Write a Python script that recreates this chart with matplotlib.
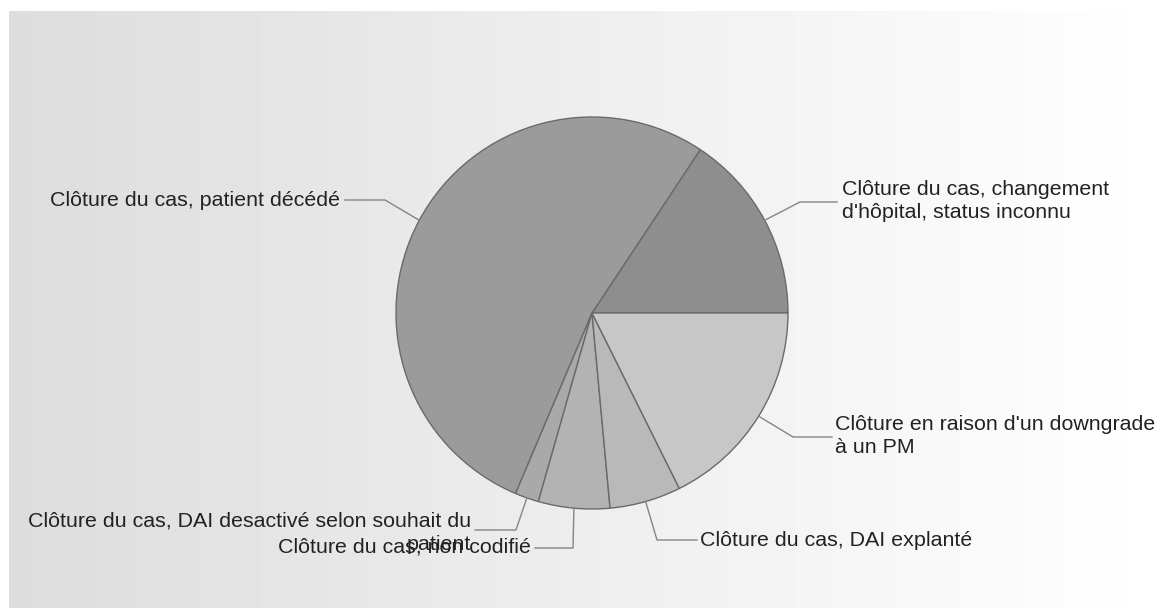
import numpy as np
import matplotlib
matplotlib.use("Agg")
import matplotlib.pyplot as plt

plt.rcParams["font.family"] = ["Liberation Sans", "DejaVu Sans"]

# clôtures de cas, par motif (nombre de patients)
labels = [
    "Clôture du cas, changement\nd'hôpital, status inconnu",
    "Clôture du cas, patient décédé",
    "Clôture du cas, DAI desactivé selon souhait du\npatient",
    "Clôture du cas, non codifié",
    "Clôture du cas, DAI explanté",
    "Clôture en raison d'un downgrade\nà un PM",
]
counts = [8, 27, 1, 3, 3, 9]
colors = ["#8e8e8e", "#9b9b9b", "#a9a9a9", "#b3b3b3", "#b9b9b9", "#c7c7c7"]

W, H = 1161, 608
CX, CY, R = 592, 313, 196  # pixels, origin top-left

# leader layout: elbow point, end of the line, text anchor (top-left pixel coords)
elbows = [(800, 202), (385, 200), (516, 530), (573, 548), (657, 540), (793, 437)]
ends = [(837, 202), (345, 200), (475, 530), (535, 548), (697, 540), (832, 437)]
text_pos = [(842, 201), (340, 200), (471, 533), (531, 547), (700, 540), (835, 436)]
text_ha = ["left", "right", "right", "right", "left", "left"]

fig = plt.figure(figsize=(W / 100, H / 100), dpi=100)
ax = fig.add_axes([0, 0, 1, 1])

# background: horizontal grey-to-white gradient
grad = np.linspace(0.865, 1.0, 256)[None, :]
ax.imshow(grad, extent=[9, W, 0, H - 11], cmap="gray", vmin=0, vmax=1,
          aspect="auto", interpolation="bilinear", zorder=0)

wedges, _ = ax.pie(counts, colors=colors, startangle=0, counterclock=True,
                   center=(CX, H - CY), radius=R,
                   wedgeprops=dict(edgecolor="#6a6a6a", linewidth=1.0))
for w in wedges:
    w.set_zorder(2)

for i, w in enumerate(wedges):
    mid = np.deg2rad((w.theta1 + w.theta2) / 2)
    x0 = CX + R * np.cos(mid)
    y0 = (H - CY) + R * np.sin(mid)
    ex, ey = elbows[i]
    tx, ty = ends[i]
    ax.plot([x0, ex, tx], [y0, H - ey, H - ty], color="#858585", lw=1.0, zorder=3)
    px, py = text_pos[i]
    ax.text(px, H - py, labels[i], ha=text_ha[i], va="center",
            multialignment=text_ha[i], fontsize=15.4, color="#222222",
            linespacing=1.32, zorder=4)

ax.set_xlim(0, W)
ax.set_ylim(0, H)
ax.set_aspect("auto")
ax.axis("off")

fig.savefig("out.png", dpi=100, facecolor="white")
